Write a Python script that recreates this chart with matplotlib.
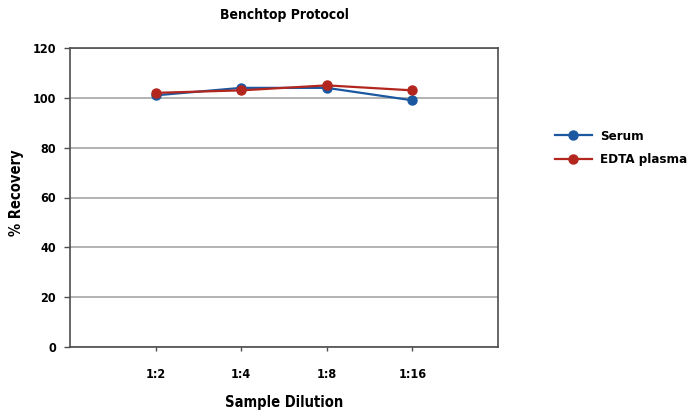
import matplotlib
matplotlib.use("Agg")
import matplotlib.pyplot as plt

plt.rcParams['font.family'] = ['DejaVu Sans']
plt.rcParams['font.stretch'] = 'condensed'
plt.rcParams['font.weight'] = 'bold'

dilutions = ["1:2", "1:4", "1:8", "1:16"]
serum = [101, 104, 104, 99]
edta_plasma = [102, 103, 105, 103]
yticks = [0, 20, 40, 60, 80, 100, 120]

fig = plt.figure(figsize=(6.94, 4.17), dpi=100)
ax = fig.add_axes([70 / 694, 1 - 347 / 417, 428 / 694, 299 / 417])

xs = list(range(1, len(dilutions) + 1))
ax.plot(xs, serum, color="#1c58a0", lw=1.6, marker="o", ms=6.5, label="Serum", zorder=3)
ax.plot(xs, edta_plasma, color="#b3261e", lw=1.6, marker="o", ms=6.5, label="EDTA plasma", zorder=4)

ax.set_xlim(0, 5)
ax.set_ylim(0, 120)
ax.set_xticks(xs)
ax.set_xticklabels(dilutions)
ax.set_yticks(yticks)
ax.yaxis.grid(True, color="#a6a6a6", lw=1.2)
ax.set_axisbelow(True)

for s in ax.spines.values():
    s.set_color("#4d4d4d")
    s.set_linewidth(1.2)

ax.tick_params(axis="y", length=4, width=1, color="#4d4d4d", pad=6, labelsize=9)
ax.tick_params(axis="x", length=3, width=1, color="#4d4d4d", pad=12, labelsize=9)

ax.text(0.5, 1 + 33 / 299, "Benchtop Protocol", transform=ax.transAxes,
        ha="center", va="center", fontsize=10, fontweight="bold")
ax.set_xlabel("Sample Dilution", fontsize=10.5, fontweight="bold", va="center")
ax.xaxis.set_label_coords(0.5, -55 / 299)
ax.set_ylabel("% Recovery", fontsize=10.5, fontweight="bold", va="center")
ax.yaxis.set_label_coords(-53 / 428, 154 / 299)

leg = ax.legend(loc="center left", bbox_to_anchor=(485 / 428, 199 / 299), frameon=False,
                prop={"weight": "bold", "size": 9.5, "stretch": "condensed"},
                handlelength=2.8, handletextpad=0.6, labelspacing=0.8,
                borderpad=0, borderaxespad=0)

fig.savefig("out.png", dpi=100)
